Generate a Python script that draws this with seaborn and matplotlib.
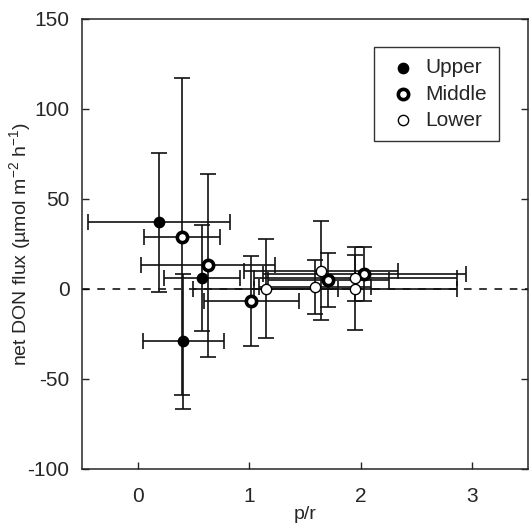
import numpy as np
import pandas as pd
import matplotlib
matplotlib.use('Agg')
import matplotlib.pyplot as plt
import seaborn as sns

# p/r and net DON flux per layer, with x and y errors
upper_x = [0.19, 0.41, 0.58]
upper_y = [37, -29, 6]
upper_xerr = [0.64, 0.36, 0.34]
upper_yerr = [38.5, 37.5, 29.5]

middle_x = [0.40, 0.63, 1.02, 1.71, 2.03]
middle_y = [29, 13, -7, 5, 8]
middle_xerr = [0.34, 0.60, 0.43, 0.54, 0.91]
middle_yerr = [88, 51, 25, 15, 15]

lower_x = [1.15, 1.59, 1.64, 1.95, 1.95]
lower_y = [0, 1, 10, 6, 0]
lower_xerr = [0.65, 0.50, 0.69, 0.91, 0.91]
lower_yerr = [27.5, 15, 27.5, 13, 23]

layers = ['Upper', 'Middle', 'Lower']

df = pd.concat([
    pd.DataFrame({'pr': upper_x, 'flux': upper_y, 'xerr': upper_xerr, 'yerr': upper_yerr, 'layer': 'Upper'}),
    pd.DataFrame({'pr': middle_x, 'flux': middle_y, 'xerr': middle_xerr, 'yerr': middle_yerr, 'layer': 'Middle'}),
    pd.DataFrame({'pr': lower_x, 'flux': lower_y, 'xerr': lower_xerr, 'yerr': lower_yerr, 'layer': 'Lower'}),
], ignore_index=True)

sns.set_style('ticks')
plt.rcParams['font.family'] = ['Liberation Sans', 'DejaVu Sans']
plt.rcParams['axes.unicode_minus'] = False

fig, ax = plt.subplots(figsize=(5.29, 5.25), dpi=100)
fig.subplots_adjust(left=0.155, right=0.998, top=0.964, bottom=0.107)

ax.axhline(0, color='black', lw=1.1, ls=(0, (5, 5)), zorder=1)

# error bars under the markers
ax.errorbar(df['pr'], df['flux'], xerr=df['xerr'], yerr=df['yerr'], fmt='none',
            ecolor='#111111', elinewidth=1.2, capsize=6, capthick=1.2, zorder=2)

styles = {
    'Upper': dict(facecolor='black', edgecolor='black', linewidth=1.0),
    'Middle': dict(facecolor='white', edgecolor='black', linewidth=2.6),
    'Lower': dict(facecolor='white', edgecolor='black', linewidth=1.0),
}
for name in layers:
    sub = df[df.layer == name]
    sns.scatterplot(data=sub, x='pr', y='flux', ax=ax, s=110, zorder=3,
                    label=name, **styles[name])

ax.set_xlim(-0.5, 3.5)
ax.set_ylim(-100, 150)
ax.set_xticks([0, 1, 2, 3])
ax.set_yticks([-100, -50, 0, 50, 100, 150])
ax.tick_params(direction='in', length=5, width=1, labelsize=15, right=True)
ax.tick_params(axis='y', pad=9)
ax.tick_params(axis='x', pad=13)
for s in ax.spines.values():
    s.set_linewidth(1.1)
    s.set_visible(True)

ax.set_xlabel('p/r', fontsize=14, labelpad=0)
ax.set_ylabel('net DON flux (µmol m$^{\\mathregular{-2}}$ h$^{\\mathregular{-1}}$)', fontsize=14)
ax.yaxis.set_label_coords(-0.108, 0.5)

# legend with smaller markers
handles, labels = ax.get_legend_handles_labels()
for h in handles:
    h.set_sizes([55])
leg = ax.legend(handles, labels, loc='upper right', bbox_to_anchor=(0.934, 0.938),
                borderaxespad=0, fontsize=15, frameon=True, fancybox=False, edgecolor='black',
                handletextpad=0.3, borderpad=0.55, labelspacing=0.35, handlelength=1.6)
leg.get_frame().set_linewidth(1.0)

fig.savefig('out.png', dpi=100)
